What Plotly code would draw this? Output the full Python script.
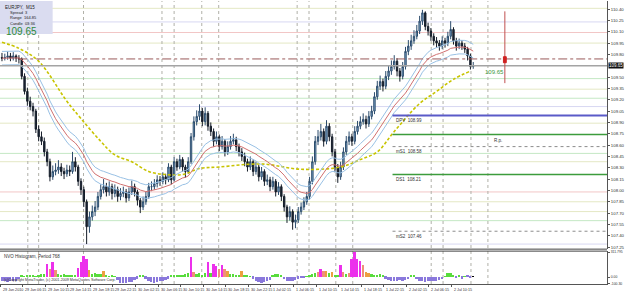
import plotly.graph_objects as go
import pandas as pd

# ---------------- data ----------------
first_open = 109.76
close = [109.75,109.76,109.78,109.75,109.78,109.75,109.74,109.51,109.31,109.18,
         109.11,109.05,108.81,108.71,108.65,108.51,108.38,108.18,108.25,108.27,
         108.31,108.25,108.22,108.27,108.25,108.38,108.31,108.12,108.01,107.85,
         107.52,107.65,107.72,107.78,107.92,108.01,108.05,107.98,108.05,107.96,
         108.01,107.92,107.96,107.98,107.90,107.98,108.05,107.98,107.87,107.78,
         107.85,107.92,108.05,108.05,108.09,108.14,108.12,108.18,108.14,108.31,
         108.14,108.38,108.31,108.41,108.31,108.25,108.38,108.71,108.91,108.98,
         109.05,108.91,109.02,108.85,108.78,108.65,108.71,108.58,108.65,108.51,
         108.58,108.65,108.67,108.58,108.51,108.45,108.38,108.31,108.38,108.25,
         108.31,108.18,108.25,108.12,108.14,108.05,108.12,107.98,108.05,107.92,
         107.78,107.65,107.72,107.58,107.61,107.72,107.78,107.85,107.92,108.12,
         108.38,108.65,108.71,108.78,108.65,108.85,108.71,108.51,108.31,108.18,
         108.31,108.51,108.65,108.71,108.65,108.78,108.85,108.91,108.94,108.88,
         108.98,109.05,109.24,109.38,109.44,109.38,109.51,109.58,109.64,109.71,
         109.58,109.51,109.64,109.84,109.91,109.98,110.04,110.11,110.24,110.35,
         110.17,110.11,110.04,109.98,109.95,109.91,109.98,109.95,110.04,110.13,
         109.98,109.91,109.95,109.91,109.87,109.78,109.64,109.65]
high = [109.82,109.81,109.84,109.82,109.83,109.80,109.79,109.76,109.55,109.36,
        109.24,109.16,109.08,108.86,108.78,108.70,108.55,108.42,108.33,108.36,
        108.40,108.36,108.30,108.34,108.33,108.51,108.44,108.34,108.16,108.05,
        107.88,107.72,107.80,107.86,107.98,108.08,108.15,108.10,108.12,108.09,
        108.08,108.05,108.03,108.05,108.02,108.04,108.13,108.09,108.01,107.90,
        107.92,107.98,108.10,108.12,108.15,108.20,108.19,108.24,108.22,108.36,
        108.34,108.44,108.42,108.47,108.44,108.34,108.44,108.76,108.98,109.06,
        109.14,109.09,109.10,109.05,108.90,108.82,108.78,108.74,108.72,108.68,
        108.65,108.72,108.75,108.71,108.62,108.56,108.50,108.42,108.45,108.41,
        108.38,108.34,108.31,108.28,108.21,108.18,108.18,108.15,108.11,108.08,
        107.95,107.81,107.79,107.75,107.68,107.78,107.84,107.91,107.98,108.18,
        108.45,108.72,108.80,108.88,108.82,108.93,108.89,108.75,108.55,108.35,
        108.38,108.57,108.72,108.78,108.75,108.85,108.92,108.98,109.02,108.99,
        109.05,109.12,109.30,109.45,109.52,109.48,109.58,109.65,109.72,109.79,
        109.75,109.62,109.70,109.90,109.99,110.06,110.12,110.19,110.31,110.39,
        110.37,110.22,110.15,110.08,110.03,109.99,110.04,110.02,110.10,110.24,
        110.16,110.02,110.01,109.99,109.95,109.90,109.81,109.70]
low = [109.71,109.72,109.73,109.71,109.72,109.70,109.68,109.47,109.27,109.12,
       109.06,108.98,108.76,108.65,108.60,108.45,108.32,108.12,108.14,108.20,
       108.22,108.19,108.15,108.18,108.19,108.22,108.25,108.06,107.94,107.78,
       107.29,107.44,107.60,107.66,107.74,107.88,107.96,107.92,107.93,107.88,
       107.91,107.85,107.87,107.91,107.84,107.86,107.94,107.92,107.80,107.70,
       107.74,107.81,107.89,107.99,108.01,108.04,108.06,108.08,108.08,108.11,
       108.08,108.12,108.26,108.28,108.25,108.17,108.22,108.35,108.66,108.86,
       108.93,108.85,108.86,108.79,108.72,108.58,108.61,108.52,108.54,108.45,
       108.47,108.54,108.61,108.52,108.45,108.39,108.32,108.25,108.27,108.19,
       108.21,108.12,108.14,108.06,108.07,107.99,108.01,107.92,107.94,107.86,
       107.72,107.57,107.60,107.48,107.50,107.57,107.68,107.74,107.81,107.88,
       108.08,108.34,108.60,108.66,108.58,108.61,108.65,108.45,108.24,108.10,
       108.14,108.27,108.47,108.60,108.59,108.61,108.74,108.81,108.87,108.82,
       108.84,108.94,109.01,109.20,109.33,109.31,109.34,109.46,109.53,109.60,
       109.51,109.44,109.47,109.60,109.79,109.86,109.94,110.00,110.07,110.19,
       110.12,110.05,109.98,109.92,109.89,109.85,109.87,109.89,109.91,110.00,
       109.93,109.85,109.87,109.86,109.82,109.72,109.60,109.61]

hist = [-45,-55,-60,-55,-50,-45,-30,15,10,20,25,15,10,30,35,40,165,95,185,90,
        35,30,40,25,20,30,15,110,190,260,220,85,40,45,35,40,70,15,10,20,
        5,-40,-70,-80,-75,-60,-65,-40,-20,20,15,-20,-50,-65,-70,-60,-55,-50,-40,-20,
        15,25,20,30,25,35,45,250,60,40,55,30,45,190,50,160,135,100,150,95,
        70,40,35,25,20,80,20,15,10,-20,-50,-65,-70,-60,-55,-35,25,40,35,20,
        -30,-45,-55,-50,-40,-20,-15,-10,10,20,35,45,60,105,80,70,50,65,25,20,
        145,60,40,55,230,311.79,220,200,150,65,55,35,30,25,35,30,-20,-40,-45,-50,
        -45,-40,-45,-35,-25,20,30,-25,-45,-55,-60,-55,-50,-55,-45,-40,-30,10,55,50,
        15,-15,20,-20,10,25,-10,5]
hist_state = list("nnnnnnnuuuuuuuuusmsmuuuuuuussssw" + "uuuuwuuuunnnnnnnnuunnnnnnnnn"
                  + "uuuuuuusmuuuusussmsmwuuuuwuuunnnnnnnuuuunnnnnnnnuuuumsmwuwuu"
                  + "smumssssmwwuuuuunnnnnnnnnuunnnnnnnnnnuuuunununn")

slow_ma_idx = [0,6,13,23,28,35,40,46,52,58,64,70,77,92,106,120,127,133,139,148,154,160,166]
slow_ma_val = [109.96,109.88,109.71,109.18,108.95,108.65,108.47,108.38,108.25,108.21,108.21,
               108.29,108.31,108.35,108.28,108.31,108.41,108.51,108.78,109.15,109.31,109.47,109.58]

session_marks = [9.15,13.0,28.9,56.7,61.0,70.8,76.8,104.6,108.8,118.3,124.3,152.1,156.3,166.2,172.2]

time_labels = ["29 Jun 2010","29 Jun 06:15","29 Jun 10:15","29 Jun 14:15","29 Jun 18:15",
               "29 Jun 22:15","30 Jun 02:15","30 Jun 06:15","30 Jun 10:15","30 Jun 14:15",
               "30 Jun 18:15","30 Jun 22:15","1 Jul 02:15","1 Jul 06:15","1 Jul 10:15",
               "1 Jul 14:15","1 Jul 18:15","1 Jul 22:15","2 Jul 02:15","2 Jul 06:15","2 Jul 10:15"]
price_ticks = [107.25,107.40,107.55,107.70,107.85,108.00,108.15,108.30,108.45,108.60,108.75,
               108.90,109.05,109.20,109.35,109.50,109.80,109.95,110.10,110.25,110.40]

bg_levels = [110.41,110.23,110.09,109.95,109.48,109.34,109.22,109.11,108.89,108.49,108.38,
             107.98,107.85,107.72,107.60,107.29]
bg_kind = ["y","l","p","y","g","y","g","l","y","g","y","p","y","y","g","l"]

pivot_names = ["DPV","","mS1","DS1","mS2"]
pivot_vals = [108.99,108.74,108.58,108.21,107.46]
pivot_kind = ["dpv","green","dot","green","dot"]
pivot_start = 138.4

bid = 109.65
ask_line = 109.74
range_marker = [110.37, 109.42]
range_box = [109.77, 109.69]

# ---------------- figure ----------------
n = len(close)
bars = list(range(n))
opens = [first_open] + close[:-1]
s = pd.Series(close)
ema = s.ewm(span=21, adjust=False).mean()

fig = go.Figure()
FONT = "Liberation Sans"

bg_col = {"y": "#e4e8c4", "l": "#d8d8f2", "p": "#f2c6c6", "g": "#c4e8c4"}
shapes = []
for v, k in zip(bg_levels, bg_kind):
    shapes.append(dict(type="line", xref="paper", x0=0, x1=1, yref="y", y0=v, y1=v,
                       line=dict(color=bg_col[k], width=1), layer="below"))
for m in session_marks:
    shapes.append(dict(type="line", xref="x", x0=m, x1=m, yref="paper", y0=0.0, y1=1,
                       line=dict(color="#b0b0a8", width=1, dash="dot"), layer="below"))
shapes.append(dict(type="line", xref="paper", x0=0.03, x1=1, yref="y", y0=ask_line, y1=ask_line,
                   line=dict(color="#9a5a5a", width=1, dash="dashdot")))
shapes.append(dict(type="line", xref="paper", x0=0, x1=1, yref="y", y0=bid, y1=bid,
                   line=dict(color="#a4a4a4", width=1.6)))
pcol = {"dpv": ("#5a5ac8", 2, "solid"), "green": ("#3c9c3c", 1.5, "solid"), "dot": ("#8c8c8c", 1, "dot")}
for v, k in zip(pivot_vals, pivot_kind):
    c, w, d = pcol[k]
    shapes.append(dict(type="line", xref="x", x0=pivot_start, x1=214.4, yref="y", y0=v, y1=v,
                       line=dict(color=c, width=w, dash=d)))
shapes.append(dict(type="line", xref="x", x0=178.2, x1=178.2, yref="y", y0=range_marker[0],
                   y1=range_marker[1], line=dict(color="#c05050", width=1)))
shapes.append(dict(type="rect", xref="x", x0=177.7, x1=178.7, yref="y", y0=range_box[1],
                   y1=range_box[0], line=dict(color="#d02020", width=1), fillcolor="#d02020"))
shapes.append(dict(type="line", xref="paper", x0=0, x1=1, yref="paper", y0=0.1232, y1=0.1232,
                   line=dict(color="#404040", width=1)))
shapes.append(dict(type="line", xref="paper", x0=0, x1=1, yref="paper", y0=0.1162, y1=0.1162,
                   line=dict(color="#404040", width=1)))
shapes.append(dict(type="rect", xref="paper", yref="paper", x0=0, x1=53/611, y0=1-33/284, y1=1,
                   fillcolor="#dadcf0", line=dict(width=0)))

fig.add_trace(go.Scatter(x=slow_ma_idx, y=slow_ma_val, mode="lines",
                         line=dict(color="#c8c400", width=1.6, dash="3px,2px"),
                         line_shape="spline", xaxis="x", yaxis="y", hoverinfo="skip"))
fig.add_trace(go.Scatter(x=bars, y=ema + 0.09, mode="lines", line=dict(color="#98c0e4", width=1), xaxis="x", yaxis="y"))
fig.add_trace(go.Scatter(x=bars, y=ema, mode="lines", line=dict(color="#d07070", width=1), xaxis="x", yaxis="y"))
fig.add_trace(go.Scatter(x=bars, y=ema - 0.09, mode="lines", line=dict(color="#98c0e4", width=1), xaxis="x", yaxis="y"))

fig.add_trace(go.Candlestick(x=bars, open=opens, high=high, low=low, close=close,
                             increasing=dict(line=dict(color="#2c4c6c", width=1), fillcolor="#86afd4"),
                             decreasing=dict(line=dict(color="#141c28", width=1), fillcolor="#1c2636"),
                             whiskerwidth=0, xaxis="x", yaxis="y", hoverinfo="skip"))

state_col = {"n": "#8a78dc", "u": "#58dc3c", "s": "#ec30ec", "m": "#f0907a", "w": "#eca040"}
fig.add_trace(go.Bar(x=bars, y=hist, marker=dict(color=[state_col[c] for c in hist_state], line=dict(width=0)),
                     width=0.66, xaxis="x2", yaxis="y2"))

ann = []
small = dict(family=FONT, size=4.5, color="#303030")
xlab = dict(family=FONT, size=3.7, color="#303030")
for k, t in enumerate(time_labels):
    ann.append(dict(xref="x", yref="paper", x=8 * k - 0.7, y=0, yanchor="top", xanchor="left",
                    text=t, showarrow=False, font=xlab, xshift=0.5, yshift=-1.5))
for name, v in zip(pivot_names, pivot_vals):
    if name:
        ann.append(dict(xref="x", yref="y", x=pivot_start + 0.5, y=v, yanchor="top", xanchor="left",
                        text=f"{name}  {v:.2f}", showarrow=False, font=small, yshift=-0.5))
ann.append(dict(xref="x", yref="y", x=173.5, y=pivot_vals[1], yanchor="top", xanchor="left",
                text="R.p.", showarrow=False, font=small, yshift=-1))
ann.append(dict(xref="x", yref="y", x=170.5, y=bid, yanchor="top", xanchor="left",
                text=f"{bid:.2f}", showarrow=False, font=dict(family=FONT, size=6, color="#3a9a3a"), yshift=-1))
ann.append(dict(xref="paper", yref="y", x=1, y=bid, xanchor="left", yanchor="middle", text=f"{bid:.2f}",
                showarrow=False, bgcolor="#101010", font=dict(family=FONT, size=4.5, color="white"),
                borderpad=0, xshift=1))
info = [("EURJPY,  M15", 4.5), ("Spread  3", 4), ("Range  164.85", 4), ("Candle  03:36", 4)]
for i, (t, sz) in enumerate(info):
    ann.append(dict(xref="paper", yref="paper", x=(3 if i == 0 else 8) / 611, y=1 - (2 + 5.2 * i) / 284,
                    xanchor="left", yanchor="top", text=t, showarrow=False,
                    font=dict(family=FONT, size=sz, color="#202020")))
ann.append(dict(xref="paper", yref="paper", x=4 / 611, y=1 - 23 / 284, xanchor="left", yanchor="top",
                text=f"{bid:.2f}", showarrow=False, font=dict(family=FONT, size=10, color="#2e8a3a")))
ann.append(dict(xref="paper", yref="paper", x=2 / 611, y=0.1162, xanchor="left", yanchor="top",
                text="NVO Histogram, Period 768", showarrow=False, font=small, yshift=-1))
ann.append(dict(xref="paper", yref="paper", x=2 / 611, y=0, xanchor="left", yanchor="bottom",
                text="(c)Copyright MetaTrader, (c) 2001-2009 MetaQuotes Software Corp.", showarrow=False,
                font=dict(family=FONT, size=3.7, color="#303030")))

fig.update_layout(
    width=625, height=292, margin=dict(l=0, r=14, t=0, b=8),
    paper_bgcolor="white", plot_bgcolor="white", showlegend=False,
    shapes=shapes, annotations=ann, bargap=0,
    xaxis=dict(domain=[0, 1], range=[-0.70, 214.4], anchor="y", showticklabels=False, showgrid=False,
               zeroline=False, rangeslider=dict(visible=False), showline=False, fixedrange=True),
    yaxis=dict(domain=[0.1232, 1], range=[107.223, 110.507], side="right", tickvals=price_ticks,
               ticktext=[f"{v:.2f}" for v in price_ticks], ticks="outside", ticklen=2, tickcolor="#555",
               tickfont=dict(family=FONT, size=4.3, color="#303030"), showgrid=False, showline=True,
               linecolor="#555", linewidth=1, zeroline=False),
    xaxis2=dict(domain=[0, 1], range=[-0.70, 214.4], anchor="y2", matches="x", showgrid=False,
                tickvals=[8 * k - 0.7 for k in range(len(time_labels))], ticks="outside", ticklen=2,
                tickcolor="#555", showticklabels=False, showline=True, linecolor="#555", zeroline=False),
    yaxis2=dict(domain=[0, 0.1162], range=[-87, 324], side="right", tickvals=[311.79, 0, -87],
                ticktext=["311.795", "0.00", "-100.30"], ticks="outside", ticklen=2, tickcolor="#555",
                tickfont=dict(family=FONT, size=3.4, color="#303030"), showgrid=False, showline=True,
                linecolor="#555", zeroline=False),
)
fig.write_html("out.html")
